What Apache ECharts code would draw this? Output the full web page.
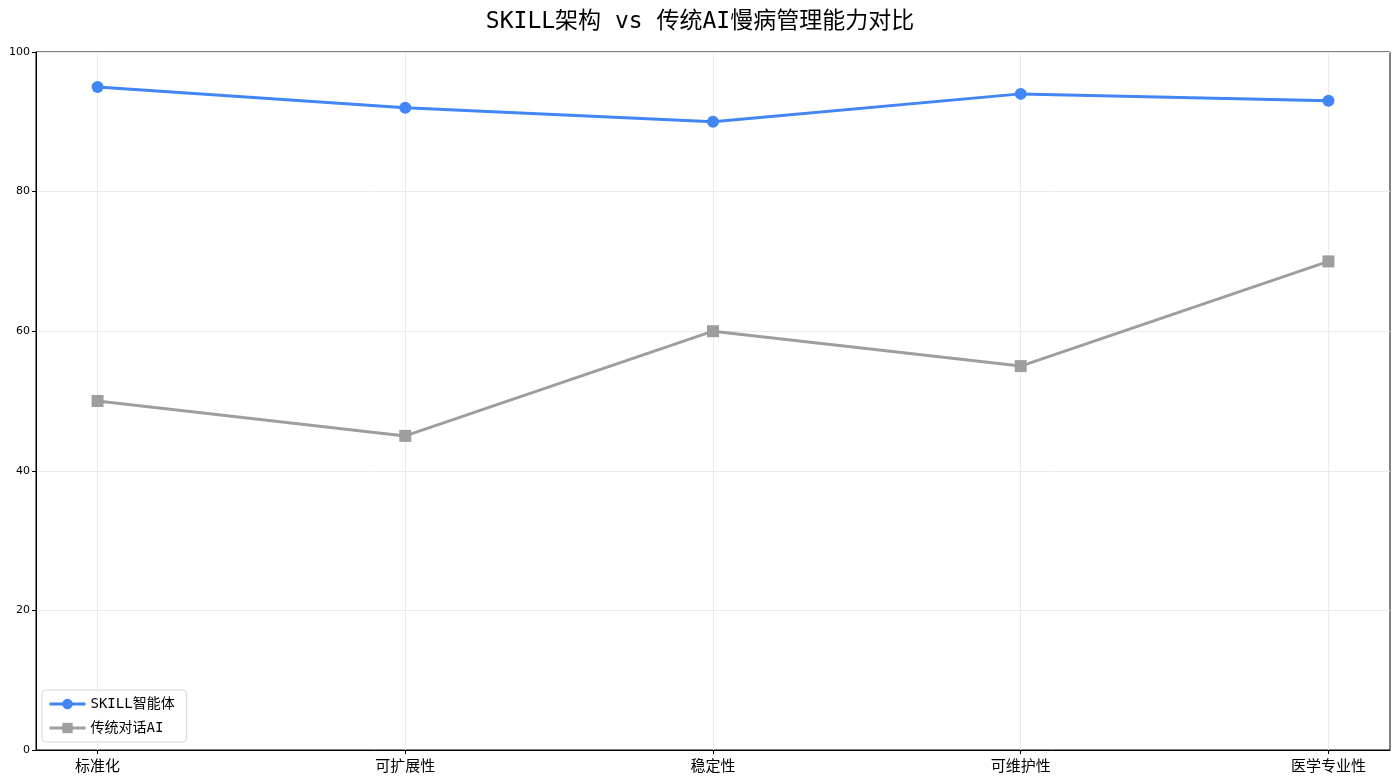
<!DOCTYPE html>
<html>
<head>
<meta charset="utf-8">
<script src="https://cdn.jsdelivr.net/npm/echarts@6/dist/echarts.min.js"></script>
<style>
  html, body { margin: 0; padding: 0; background: #fff; }
  #chart { width: 1400px; height: 783px; }
</style>
</head>
<body>
<div id="chart"></div>
<script>
const categories = ['标准化', '可扩展性', '稳定性', '可维护性', '医学专业性']
const skillScores = [95, 92, 90, 94, 93]
const legacyScores = [50, 45, 60, 55, 70]
const yTicks = [0, 20, 40, 60, 80, 100]

// SimHei-ish look: monospace latin, CJK fallback
const FONT = '"DejaVu Sans Mono", "Noto Sans CJK SC", sans-serif'
const catIdx = categories.map((_, i) => i)

const chart = echarts.init(document.getElementById('chart'))

chart.setOption({
  animation: false,
  title: {
    text: 'SKILL架构 vs 传统AI慢病管理能力对比',
    left: 'center',
    top: 6,
    textStyle: { fontFamily: FONT, fontSize: 23, fontWeight: 'normal', color: '#000' },
  },
  grid: {
    left: 36,
    right: 10,
    top: 52,
    bottom: 33,
    show: true,
    borderColor: '#000',
    borderWidth: 1,
  },
  legend: {
    left: 42,
    bottom: 41,
    orient: 'vertical',
    itemWidth: 36,
    itemHeight: 13,
    itemGap: 10,
    padding: [7, 12, 7, 6],
    borderColor: '#d6d6d6',
    borderWidth: 1,
    borderRadius: 4,
    backgroundColor: 'rgba(255,255,255,0.8)',
    lineStyle: { width: 3 },
    textStyle: { fontFamily: FONT, fontSize: 14, color: '#000' },
  },
  xAxis: {
    type: 'value',
    min: -0.2,
    max: 4.2,
    axisLine: { show: true, onZero: false, lineStyle: { color: '#000' } },
    axisTick: { show: true, customValues: catIdx, length: 4, lineStyle: { color: '#000' } },
    axisLabel: {
      customValues: catIdx,
      formatter: (v) => categories[Math.round(v)] ?? '',
      fontFamily: FONT,
      fontSize: 15,
      color: '#000',
      margin: 10,
    },
    splitLine: { show: true, lineStyle: { color: '#ebebeb', width: 1 } },
  },
  yAxis: {
    type: 'value',
    min: 0,
    max: 100,
    interval: 20,
    axisLine: { show: true, onZero: false, lineStyle: { color: '#000' } },
    axisTick: { show: true, length: 4, lineStyle: { color: '#000' } },
    axisLabel: {
      formatter: (v) => (yTicks.includes(v) ? String(v) : ''),
      fontFamily: '"DejaVu Sans", sans-serif',
      fontSize: 11,
      color: '#000',
      margin: 6,
    },
    splitLine: { show: true, lineStyle: { color: '#ebebeb', width: 1 } },
  },
  series: [
    {
      name: 'SKILL智能体',
      type: 'line',
      data: skillScores.map((v, i) => [i, v]),
      symbol: 'circle',
      symbolSize: 12,
      lineStyle: { width: 3, color: '#4285f4' },
      itemStyle: { color: '#4285f4' },
      z: 3,
    },
    {
      name: '传统对话AI',
      type: 'line',
      data: legacyScores.map((v, i) => [i, v]),
      symbol: 'rect',
      symbolSize: 12,
      lineStyle: { width: 3, color: '#9e9e9e' },
      itemStyle: { color: '#9e9e9e' },
      z: 2,
    },
  ],
})

window.addEventListener('resize', () => chart.resize())
</script>
</body>
</html>
